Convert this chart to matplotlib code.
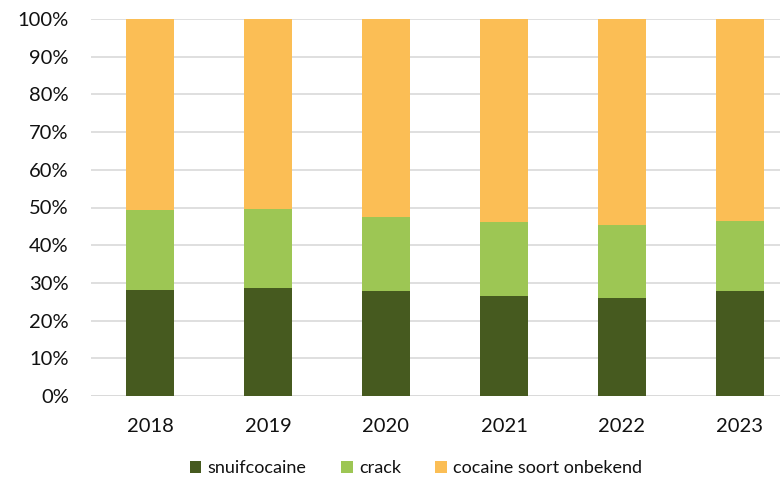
import numpy as np
import matplotlib.pyplot as plt
from matplotlib.ticker import PercentFormatter

# Data (aandeel in %)
years = ['2018', '2019', '2020', '2021', '2022', '2023']
snuif = [28.2, 28.6, 27.9, 26.5, 25.9, 27.8]
crack_top = [49.3, 49.5, 47.4, 46.1, 45.3, 46.5]
crack = [c - s for c, s in zip(crack_top, snuif)]
onbekend = [100 - c for c in crack_top]

plt.rcParams['font.family'] = ['Lato', 'DejaVu Sans']

fig = plt.figure(figsize=(7.8, 4.88), dpi=100)
ax = fig.add_axes([91 / 780, 92 / 488, 708 / 780, 377 / 488])

x = np.arange(len(years))
w = 0.4
ax.bar(x, snuif, w, color='#465A1F', label='snuifcocaine', zorder=3)
ax.bar(x, crack, w, bottom=snuif, color='#9DC654', label='crack', zorder=3)
ax.bar(x, onbekend, w, bottom=crack_top, color='#FBBE55',
       label='cocaine soort onbekend', zorder=3)

ax.set_xlim(-0.5, len(years) - 0.5)
ax.set_ylim(0, 100)
ax.set_yticks(np.arange(0, 101, 10))
ax.yaxis.set_major_formatter(PercentFormatter(decimals=0))
ax.set_xticks(x)
ax.set_xticklabels(years)
ax.tick_params(axis='y', length=0, pad=16, labelsize=14.5, colors='#111111')
ax.tick_params(axis='x', length=0, pad=16, labelsize=14.5, colors='#111111')
ax.grid(axis='y', color='#D9D9D9', linewidth=1.2, zorder=0)
for s in ax.spines.values():
    s.set_visible(False)
ax.axhline(0, color='#D9D9D9', linewidth=1.2, zorder=1)

fig.legend(loc='center', bbox_to_anchor=(416 / 780, 20 / 488), ncol=3,
           frameon=False, fontsize=13, handlelength=0.65, handleheight=0.65,
           handletextpad=0.35, columnspacing=1.9, labelcolor='#111111')

fig.savefig('out.png', dpi=100)
